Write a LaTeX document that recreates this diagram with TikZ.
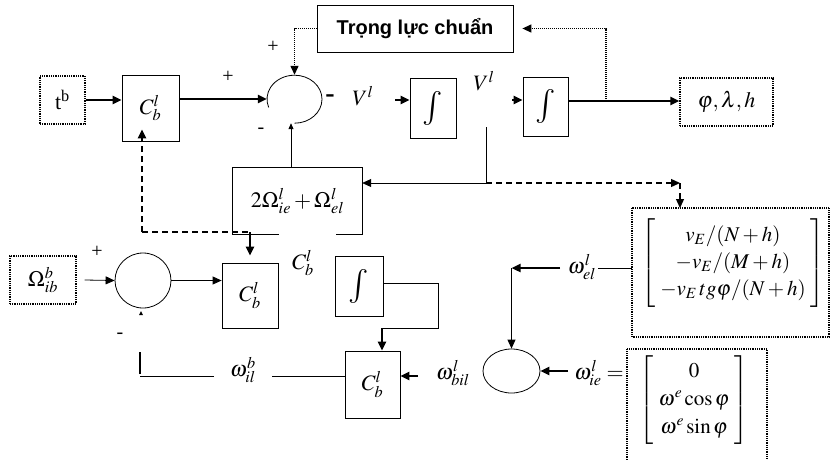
\documentclass[tikz,border=0pt]{standalone}
\usepackage{mathptmx}
\usepackage{fontspec}
\setmainfont{Liberation Serif}
\newfontfamily\vnsans{Liberation Sans}
\usetikzlibrary{arrows.meta,shapes.geometric,calc}
\begin{document}
\begin{tikzpicture}[x=1pt,y=-1pt,
  lab/.style={inner sep=0pt, font=\fontsize{22}{26}\selectfont},
  intg/.style={inner sep=0pt, font=\fontsize{34}{38}\selectfont},
  sgn/.style={inner sep=0pt, font=\fontsize{20}{22}\selectfont},
  blk/.style={draw, line width=0.8pt, inner sep=0pt, font=\fontsize{22}{26}\selectfont},
  dotblk/.style={draw, line width=1.4pt, dash pattern=on 1pt off 0.8pt, inner sep=0pt, font=\fontsize{22}{26}\selectfont},
  thk/.style={line width=2.4pt},
  thn/.style={line width=0.8pt},
  arr/.style={-{Triangle[length=9pt,width=8pt]}},
  sarr/.style={-{Triangle[length=6pt,width=5pt]}},
  dotl/.style={line width=1.3pt, dash pattern=on 1pt off 1pt},
  dsh/.style={line width=1.3pt, dash pattern=on 6pt off 4pt},
  tdsh/.style={line width=2.2pt, dash pattern=on 6pt off 4pt},
]
\useasboundingbox (0,0) rectangle (830,459);

% ---------- top row ----------
\node[dotblk, minimum width=45pt, minimum height=48pt] (tb) at (62.5,100) {t\textsuperscript{b}};
\node[blk, minimum width=57pt, minimum height=66pt] (cb1) at (150.5,108) {$C_b^l$};
\node[ellipse, minimum width=55pt, minimum height=48pt, inner sep=0pt] (s1) at (294.5,99) {};
\draw[thn] (s1.south) arc[start angle=90, end angle=-200, x radius=27.5, y radius=24];
\node[blk, minimum width=196pt, minimum height=47pt, font=\vnsans\bfseries\fontsize{20}{24}\selectfont] (grav) at (415,28.5) {Trọng lực chuẩn};
\node[lab] (v1) at (363,96) {$V^l$};
\node[blk, minimum width=46pt, minimum height=60pt] (int1) at (433,108) {};
\node[intg] (i1) at (int1) {$\int$};
\node[lab] (v2) at (484,81) {$V^l$};
\node[blk, minimum width=45pt, minimum height=59pt] (int2) at (545.5,106.5) {};
\node[intg] (i2) at (int2) {$\int$};
\node[dotblk, minimum width=93pt, minimum height=48pt] (out) at (726.5,102) {$\varphi,\lambda,h$};

\node[sgn] (p1) at (228,77) {+};
\node[sgn] (p2) at (273,47) {+};
\node[sgn] (m1) at (261,131) {-};
\node[sgn, font=\bfseries\fontsize{28}{30}\selectfont] (m2) at (330,99) {-};

\draw[thk,arr] (tb.east) -- (tb.east -| cb1.west);
\draw[thk,arr] (cb1.east |- s1) -- (s1.west);
\draw[dotl,arr] (grav.west) -- (grav.west -| s1.north) -- (s1.north);
\coordinate (a1) at (395,100);
\draw[thk,arr] (a1) -- (a1 -| int1.west);
\coordinate (a2) at (512,100);
\draw[thk,arr] (a2) -- (a2 -| int2.west);
\coordinate (b1) at (606,101);
\draw[thk,arr] (int2.east |- b1) -- (out.west |- b1);
\draw[dotl,arr] (b1) -- (b1 |- grav.east) -- ($(grav.east)+(9,0)$);

% ---------- 2 Omega box ----------
\node[minimum width=129pt, minimum height=66pt, inner sep=0pt, lab] (omg) at (297.5,201) {$2\Omega^l_{ie}+\Omega^l_{el}$};
\draw[thn] ($(omg.south west)+(46,0)$) -- (omg.south west) -- (omg.north west) -- (omg.north east) -- (omg.south east) -- ++(-26,0);
\coordinate (c1) at (291,168);
\draw[thn,sarr] (c1) -- (c1 |- s1.south);

\coordinate (d1) at (486,127);
\coordinate (d2) at (486,183);
\coordinate (d3) at (680,183);
\draw[thn,arr] (d1) -- (d2) -- (d2 -| omg.east);

% ---------- matrix boxes ----------
\coordinate (mat1nw) at (632,208);
\coordinate (mat1se) at (829,337);
\draw[dotblk] (mat1nw) rectangle (mat1se);
\node[lab, font=\fontsize{21}{27}\selectfont] (mt1) at (733,263) {$\left[\begin{array}{c} v_E/(N+h)\\ -v_E/(M+h)\\ -v_E\,tg\varphi/(N+h)\end{array}\right]$};
\coordinate (mat2nw) at (627,349);
\coordinate (mat2ne) at (767,349);
\draw[dotblk] (mat2nw |- 0,462) -- (mat2nw) -- (mat2ne) -- (mat2ne |- 0,462);
\node[lab, font=\fontsize{21}{28}\selectfont] (mt2) at (694,400) {$\left[\begin{array}{c} 0\\ \omega^e\cos\varphi\\ \omega^e\sin\varphi\end{array}\right]$};

\draw[dsh,arr] (d2) -- (d3);
\draw[dsh,arr] (d3) -- (d3 |- mat1nw);

% ---------- lower left ----------
\node[dotblk, minimum width=66pt, minimum height=48pt] (omb) at (43,280) {$\Omega^b_{ib}$};
\node[ellipse, draw, thn, minimum width=56pt, minimum height=55pt, inner sep=0pt] (s2) at (143,280.5) {};
\node[blk, minimum width=56pt, minimum height=65pt] (cb2) at (250,295.5) {$C_b^l$};
\node[lab] (cbl) at (303,263) {$C_b^l$};
\node[blk, minimum width=48pt, minimum height=60pt] (int3) at (359,286) {};
\node[intg] (i3) at (int3) {$\int$};
\node[blk, minimum width=55pt, minimum height=67pt] (cb3) at (372.5,384.5) {$C_b^l$};

\node[sgn] (p3) at (97,252) {+};
\node[sgn] (m3) at (120,336) {-};
\fill (139,315) -- (141,311) -- (143,315) -- cycle;

\draw[thn,arr] ($(omb.east)+(8,0)$) -- (s2.west);
\draw[thn,arr] (s2.east) -- (s2.east -| cb2.west);

\coordinate (e1) at (142,232);
\draw[tdsh,arr] (e1) -- ($(cb1.south -| e1)+(0,-12)$);
\draw[tdsh] (e1) -- (e1 -| cb2.north);
\draw[thk,arr] (e1 -| cb2.north) -- ($(cb2.north)+(0,-7)$);

\coordinate (f1) at (438,283);
\coordinate (f2) at (382,328);
\draw[thn] (int3.east |- f1) -- (f1) -- (f1 |- f2) -- (f2);
\draw[thk,arr] (f2) -- (f2 |- cb3.north);

\coordinate (g1) at (418,376);
\draw[thk,arr] (g1) -- (g1 -| cb3.east);
\node[lab] (wbil) at (453,373) {$\omega^l_{bil}$};

\node[lab] (wil) at (243,370) {$\omega^b_{il}$};
\coordinate (h1) at (140,376);
\coordinate (h2) at (272,376);
\coordinate (h3) at (214,376);
\draw[thn] (cb3.west |- h1) -- (h2);
\draw[thn] (h3) -- (h1);
\draw[thk] ($(h1)+(0,-2)$) -- ++(0,-22);

% ---------- lower right ----------
\node[ellipse, draw, thn, minimum width=57pt, minimum height=44pt, inner sep=0pt] (s3) at (511.5,371) {};
\node[lab] (wie) at (599,373) {$\omega^l_{ie}=$};
\coordinate (k1) at (568,371);
\draw[thk,arr] (k1) -- (s3.east);

\node[lab] (wel) at (582,267) {$\omega^l_{el}$};
\coordinate (k2) at (598,268);
\coordinate (k3) at (560,268);
\draw[thn] (mat1nw |- k2) -- (k2);
\draw[thk,arr] (k3) -- (s3.north |- k3);
\draw[thn,arr] (s3.north |- k3) -- (s3.north);
\end{tikzpicture}
\end{document}
